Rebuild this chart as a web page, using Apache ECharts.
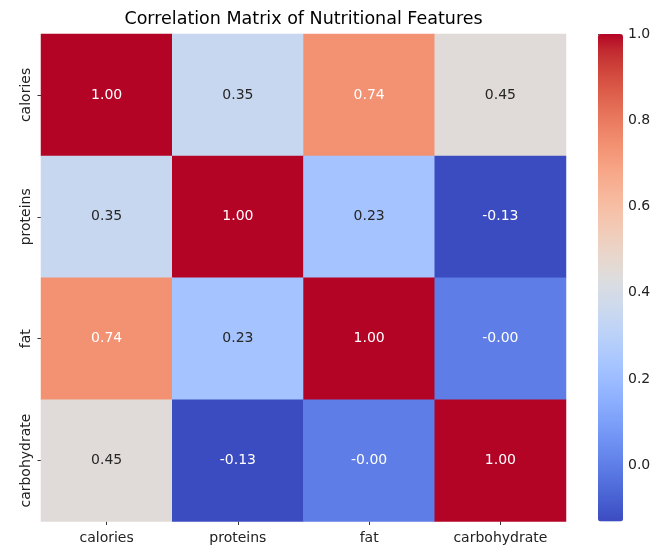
<!DOCTYPE html>
<html><head><meta charset="utf-8">
<script src="https://cdn.jsdelivr.net/npm/echarts@6/dist/echarts.min.js"></script>
<style>html,body{margin:0;padding:0;background:#fff}#c{width:655px;height:548px}</style>
</head><body><div id="c"></div>
<script>
const features = ['calories', 'proteins', 'fat', 'carbohydrate'];
const rowCalories = [1.00, 0.35, 0.74, 0.45];
const rowProteins = [0.35, 1.00, 0.23, -0.13];
const rowFat = [0.74, 0.23, 1.00, -0.003];
const rowCarbohydrate = [0.45, -0.13, -0.003, 1.00];
const colorbarTicks = [0.0, 0.2, 0.4, 0.6, 0.8, 1.0];
const vmin = -0.13, vmax = 1.0;

const rows = [rowCalories, rowProteins, rowFat, rowCarbohydrate];
const coolwarm = [[59,76,192],[68,90,204],[77,104,215],[87,117,225],[98,130,234],[108,142,241],[119,154,247],[130,165,251],[141,176,254],[152,185,255],[163,194,255],[174,201,253],[184,208,249],[194,213,244],[204,217,238],[213,219,230],[221,221,221],[229,216,209],[236,211,197],[241,204,185],[245,196,173],[247,187,160],[247,177,148],[247,166,135],[244,154,123],[241,141,111],[236,127,99],[229,112,88],[222,96,77],[213,80,66],[203,62,56],[192,40,47],[180,4,38]];
const hex = c => '#' + c.map(v => Math.round(v).toString(16).padStart(2,'0')).join('');
function cmap(v){
  let t = (v - vmin)/(vmax - vmin); t = Math.max(0, Math.min(1, t));
  const p = t*(coolwarm.length-1), i = Math.min(Math.floor(p), coolwarm.length-2), f = p - i;
  return coolwarm[i].map((a,k)=> a + (coolwarm[i+1][k]-a)*f);
}
function lum(c){
  const s = c.map(v=>{v/=255;return v<=0.03928? v/12.92 : Math.pow((v+0.055)/1.055,2.4);});
  return 0.2126*s[0]+0.7152*s[1]+0.0722*s[2];
}
const data = [];
rows.forEach((r, yi) => r.forEach((v, xi) => {
  data.push({value: [xi, yi, v], label: {color: lum(cmap(v)) > 0.408 ? '#262626' : '#ffffff'}});
}));

const chart = echarts.init(document.getElementById('c'));
const font = 'DejaVu Sans';
chart.setOption({
  animation: false,
  textStyle: {fontFamily: font},
  graphic: [{type:'text', x: 303.5, y: 19, style:{text:'Correlation Matrix of Nutritional Features', font: '17.5px "DejaVu Sans"', fill:'#000', textAlign:'center', textVerticalAlign:'middle'}}],
  grid: [
    {left: 41, top: 34, width: 525, height: 487.5, containLabel: false},
    {left: 598, top: 34, width: 25, height: 487.5, containLabel: false}
  ],
  xAxis: [
    {type:'category', gridIndex:0, data: features, axisLine:{show:false}, splitLine:{show:false},
     axisTick:{show:true, alignWithLabel:true, interval:0, length:3.5, lineStyle:{color:'#333'}},
     axisLabel:{fontFamily:font, fontSize:14, color:'#222', margin:10, interval:0, hideOverlap:false}},
    {type:'value', gridIndex:1, show:false, min:0, max:1}
  ],
  yAxis: [
    {type:'category', gridIndex:0, data: features, inverse:true, axisLine:{show:false}, splitLine:{show:false},
     axisTick:{show:true, alignWithLabel:true, interval:0, length:3.5, lineStyle:{color:'#333'}},
     axisLabel:{fontFamily:font, fontSize:14, color:'#222', rotate:90, margin:8, interval:0, hideOverlap:false}},
    {type:'value', gridIndex:1, position:'right', min:vmin, max:vmax,
     axisLine:{show:false}, splitLine:{show:false},
     axisTick:{show:true, length:3.5, customValues: colorbarTicks, lineStyle:{color:'#333'}},
     axisLabel:{fontFamily:font, fontSize:14, color:'#222', margin:5, customValues: colorbarTicks, formatter: v => v.toFixed(1)}}
  ],
  visualMap: {
    type:'continuous', min:vmin, max:vmax, calculable:false, show:true, seriesIndex:0,
    orient:'vertical', left:598, top:34, itemWidth:25, itemHeight:487.5, padding:0, text:null, showLabel:false,
    inRange:{color: coolwarm.map(hex)}, hoverLink:false
  },
  series: [{
    type:'heatmap', xAxisIndex:0, yAxisIndex:0, data: data,
    label:{show:true, fontFamily:font, fontSize:14, formatter: p => p.value[2].toFixed(2)},
    itemStyle:{borderWidth:0}, emphasis:{disabled:true}
  }]
});
</script></body></html>
